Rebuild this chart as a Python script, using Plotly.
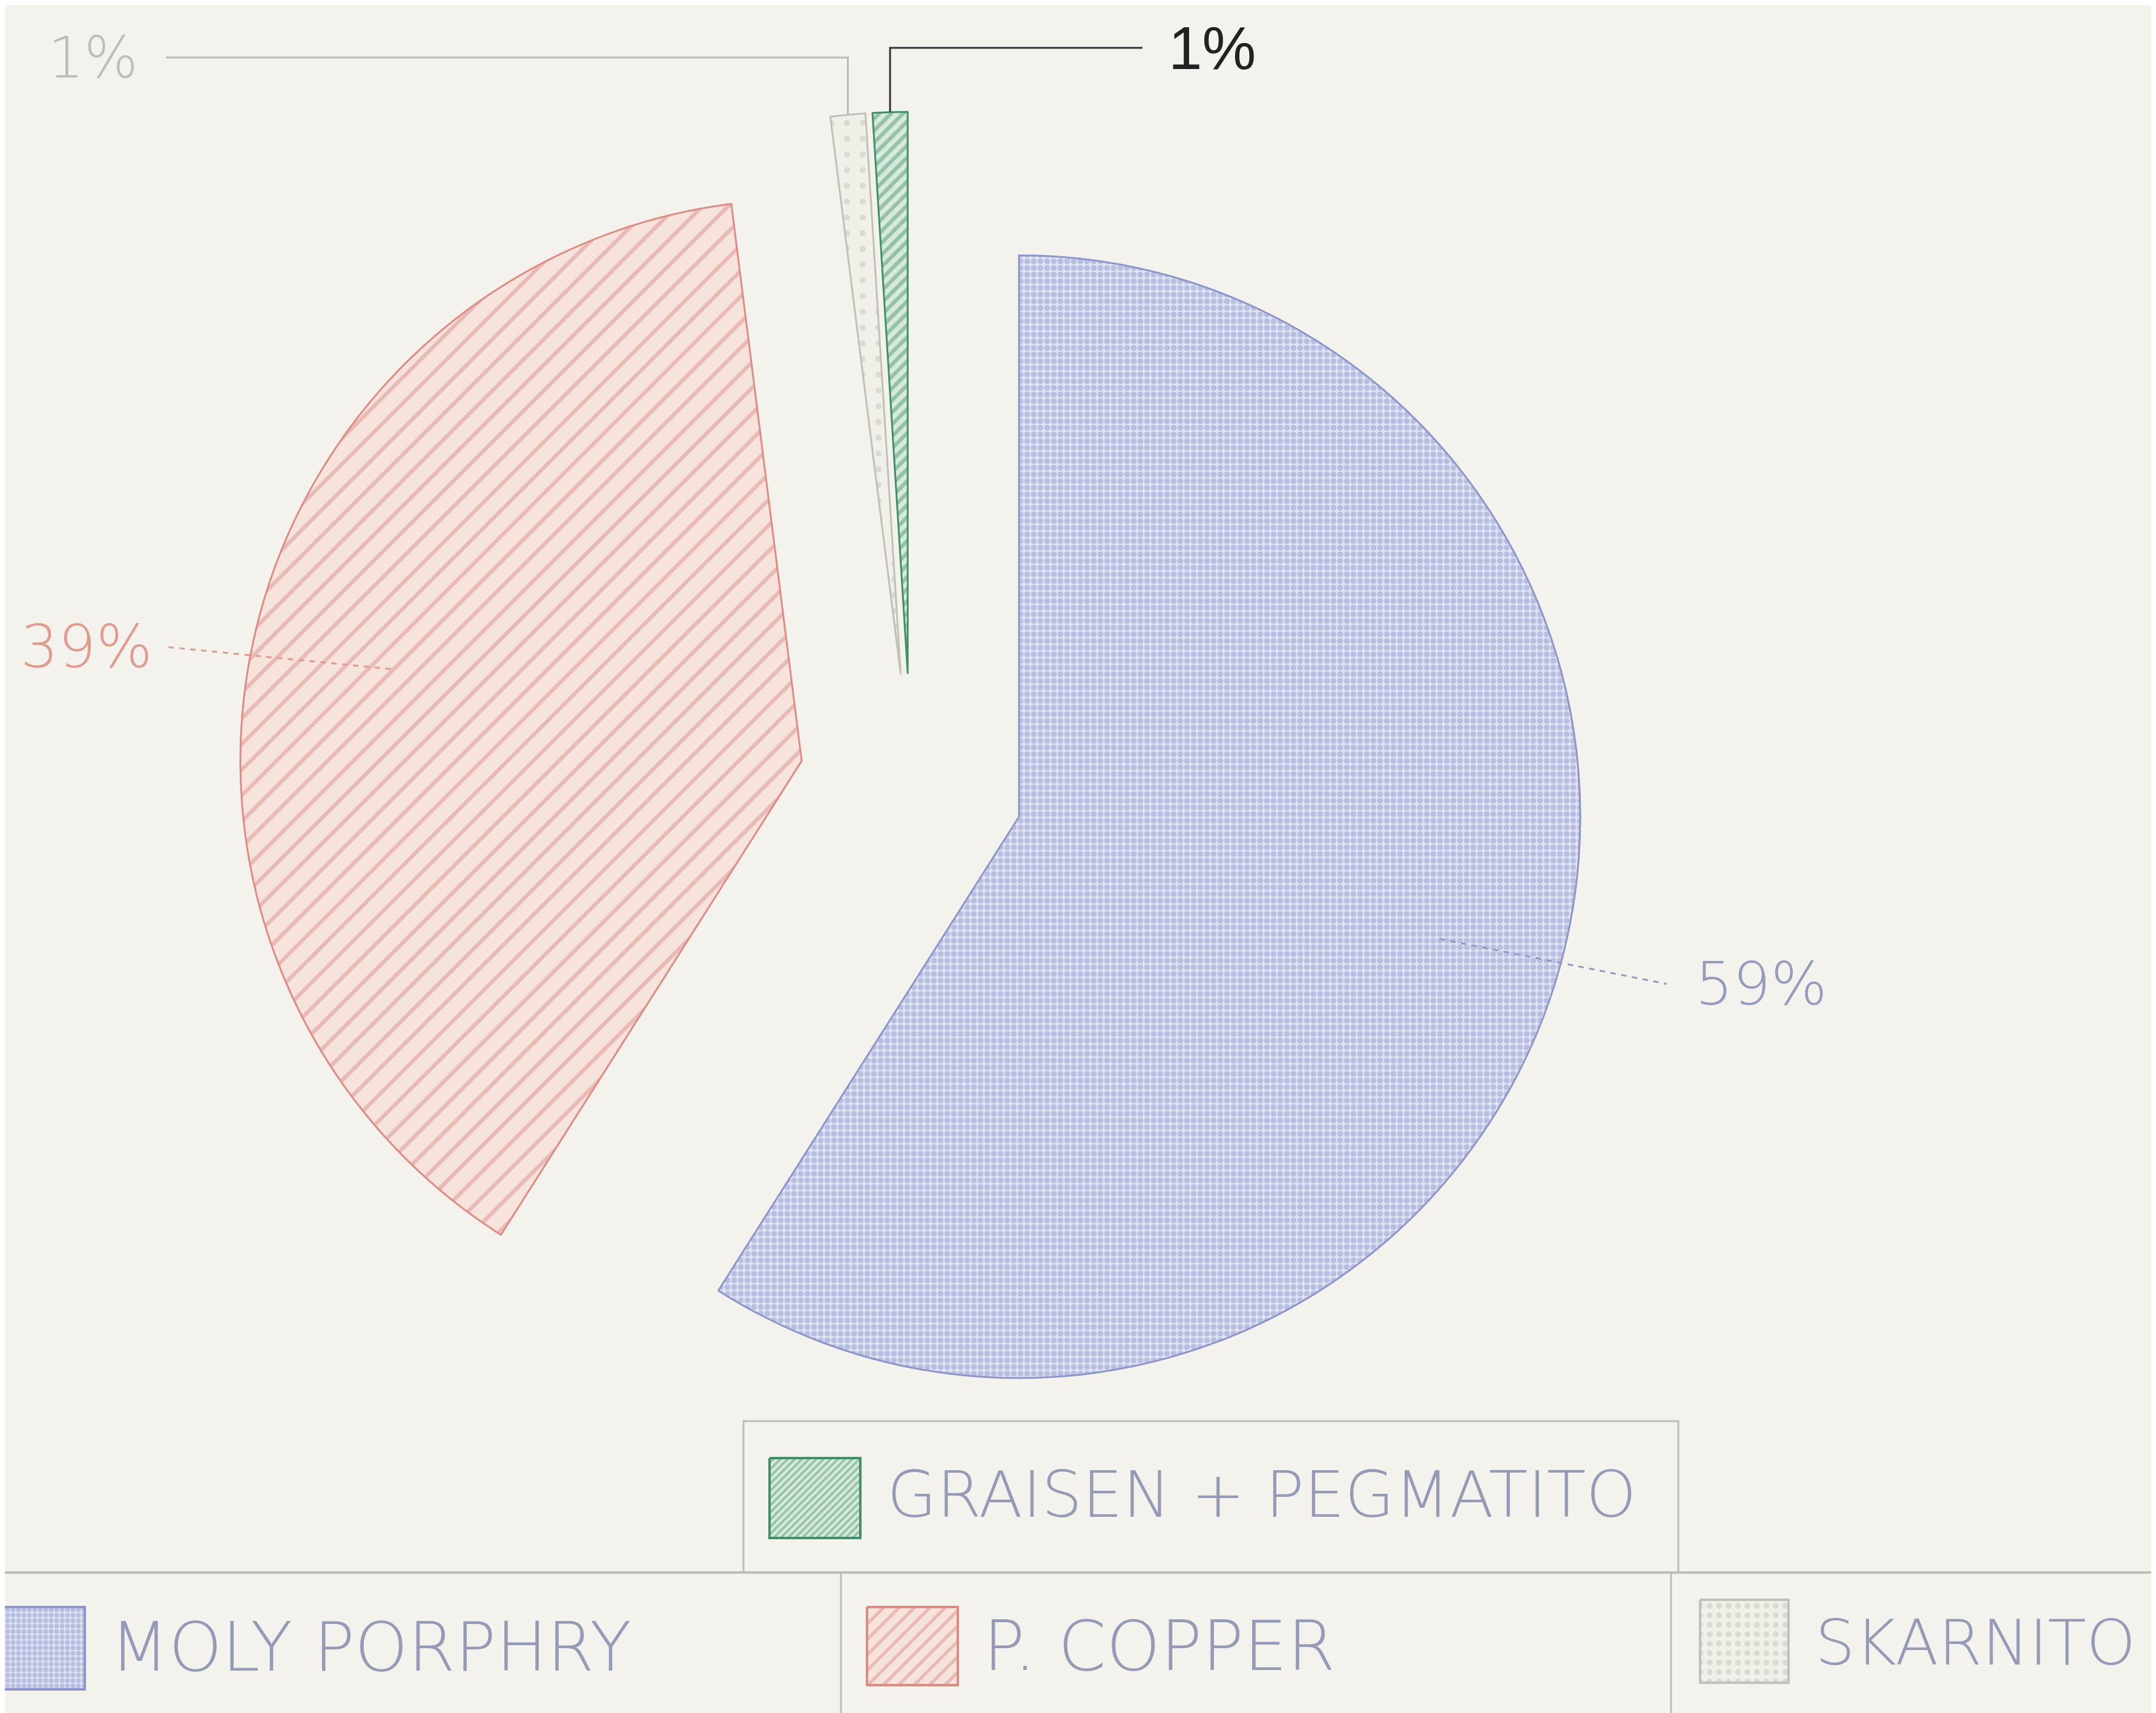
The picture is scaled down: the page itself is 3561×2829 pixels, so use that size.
import math
import plotly.graph_objects as go

# ---------------- data ----------------
labels = ["MOLY PORPHRY", "P. COPPER", "SKARNITO", "GRAISEN + PEGMATITO"]
values = [59, 39, 1, 1]
pct_text = ["59%", "39%", "1%", "1%"]

# ---------------- styles ----------------
W, H = 3561, 2829
BG = "#f3f2ec"
fg_cols = ["#8f99cf", "#d9928e", "#c6c6bc", "#4f9c72"]
bg_cols = ["#dfe2f0", "#f6e3dc", "#f0efe8", "#d6e9dc"]
line_cols = ["#8d96cc", "#e08a80", "#c0c0b8", "#3f9066"]
shapes_pat = [".", "/", ".", "/"]
pat_size = [11, 30, 26, 14]
pat_sol = [0.6, 0.22, 0.12, 0.45]
PULL = 0.2

# pie domain (paper)
dom_x = [0.108, 0.7328]
dom_y = [0.1511, 0.9376]

fig = go.Figure()
fig.add_trace(go.Pie(
    labels=labels, values=values, sort=False, direction="clockwise", rotation=0,
    pull=[PULL] * len(values), textinfo="none", showlegend=False,
    hoverinfo="label+percent",
    domain=dict(x=dom_x, y=dom_y),
    marker=dict(
        colors=bg_cols,
        line=dict(color=line_cols, width=3),
        pattern=dict(shape=shapes_pat, fgcolor=fg_cols, bgcolor=bg_cols,
                     size=pat_size, solidity=pat_sol, fillmode="overlay"),
    ),
))

# ---------------- geometry (same rule Plotly uses) ----------------
aw = W * (dom_x[1] - dom_x[0])
ah = H * (dom_y[1] - dom_y[0])
R = min(aw, ah) / 2 / (1 + PULL)
CX = W * (dom_x[0] + dom_x[1]) / 2
CY = H * (1 - dom_y[0]) - ah / 2
total = sum(values)
mids = []
acc = 0
for v in values:
    mids.append((acc + v / 2) / total * 2 * math.pi)
    acc += v

def pt(i, k):
    """point at k*R from pulled apex of slice i, along its mid angle (pixels)"""
    a = mids[i]
    ux, uy = math.sin(a), -math.cos(a)
    ax0 = CX + PULL * R * ux
    ay0 = CY + PULL * R * uy
    return ax0 + k * R * ux, ay0 + k * R * uy

def px(x):
    return x / W

def py(y):
    return 1 - y / H

plot_font = "DejaVu Sans, Liberation Sans"
leg_font = "DejaVu Sans, Liberation Sans"
anns = []
shp = []

# ---- labels for the big slices ----
label_cfg = [
    # slice, inner k, text x (px), text y (px), anchor, color, leader end x
    (0, 0.78, 2790, 1617, "left", "#959bbd", 2745),
    (1, 0.75, 24, 1060, "left", "#e39a8c", 262),
]
for i, k, tx, ty, anc, col, xe in label_cfg:
    x0, y0 = pt(i, k)
    shp.append(dict(type="line", xref="paper", yref="paper",
                    x0=px(x0), y0=py(y0), x1=px(xe), y1=py(ty),
                    line=dict(color=col, width=3, dash="dash")))
    anns.append(dict(text=pct_text[i], x=px(tx), y=py(ty), xref="paper", yref="paper",
                     xanchor=anc, yanchor="middle", showarrow=False,
                     font=dict(family=plot_font, size=98, color=col, weight=300)))

# ---- elbow leaders for the two small slices ----
elbow_cfg = [
    # slice, level y, end x, text x, anchor, text color, font, size, line color, weight
    (2, 87, 266, 222, "right", "#bdbdb5", plot_font, 94, "#b9b9b2", 300),
    (3, 71, 1879, 1920, "left", "#222222", "Liberation Sans, Arial", 100, "#333333", 400),
]
for i, ly, ex, tx, anc, col, fam, fs, lcol, wt in elbow_cfg:
    x0, y0 = pt(i, 1.0)
    shp.append(dict(type="path", xref="paper", yref="paper",
                    path=f"M {px(x0)},{py(y0)} L {px(x0)},{py(ly)} L {px(ex)},{py(ly)}",
                    line=dict(color=lcol, width=3)))
    anns.append(dict(text=pct_text[i], x=px(tx), y=py(ly), xref="paper", yref="paper",
                     xanchor=anc, yanchor="middle", showarrow=False,
                     font=dict(family=fam, size=fs, color=col, weight=wt)))

# ---------------- manual legend ----------------
frame_col = "#bdbdb5"
shp.append(dict(type="rect", xref="paper", yref="paper",
                x0=px(1220), x1=px(2764), y0=py(2589), y1=py(2339),
                line=dict(color=frame_col, width=3)))
shp.append(dict(type="line", xref="paper", yref="paper",
                x0=0, x1=1, y0=py(2589), y1=py(2589), line=dict(color=frame_col, width=4)))
for xv in (1381, 2752):
    shp.append(dict(type="line", xref="paper", yref="paper",
                    x0=px(xv), x1=px(xv), y0=py(2589), y1=0, line=dict(color=frame_col, width=3)))

leg_items = [
    # slice idx, swatch x0,x1,y0,y1, text x, text y, font size
    (3, 1263, 1413, 2400, 2532, 1455, 2460, 106),
    (0, -4, 132, 2646, 2782, 172, 2712, 112),
    (1, 1424, 1574, 2646, 2775, 1614, 2710, 114),
    (2, 2800, 2946, 2634, 2771, 2988, 2705, 104),
]
leg_txt_col = "#959ab6"
for i, sx0, sx1, sy0, sy1, tx, ty, fs in leg_items:
    fig.add_trace(go.Scatter(
        x=[sx0, sx1, sx1, sx0, sx0], y=[sy0, sy0, sy1, sy1, sy0],
        mode="lines", fill="toself", fillcolor=bg_cols[i],
        fillpattern=dict(shape=shapes_pat[i], fgcolor=fg_cols[i], bgcolor=bg_cols[i],
                         size=pat_size[i] * 0.6 if i != 0 else 9, solidity=max(pat_sol[i], 0.3)),
        line=dict(color=line_cols[i], width=4), showlegend=False, hoverinfo="skip",
        xaxis="x", yaxis="y"))
    anns.append(dict(text=labels[i], x=px(tx), y=py(ty), xref="paper", yref="paper",
                     xanchor="left", yanchor="middle", showarrow=False,
                     font=dict(family=leg_font, size=fs, color=leg_txt_col, weight=300)))

fig.update_layout(
    width=W, height=H,
    margin=dict(l=0, r=0, t=0, b=0),
    paper_bgcolor=BG, plot_bgcolor="rgba(0,0,0,0)",
    xaxis=dict(range=[0, W], visible=False, domain=[0, 1], fixedrange=True),
    yaxis=dict(range=[H, 0], visible=False, domain=[0, 1], fixedrange=True),
    shapes=shp, annotations=anns,
    showlegend=False,
)

fig.write_html("out.html")
